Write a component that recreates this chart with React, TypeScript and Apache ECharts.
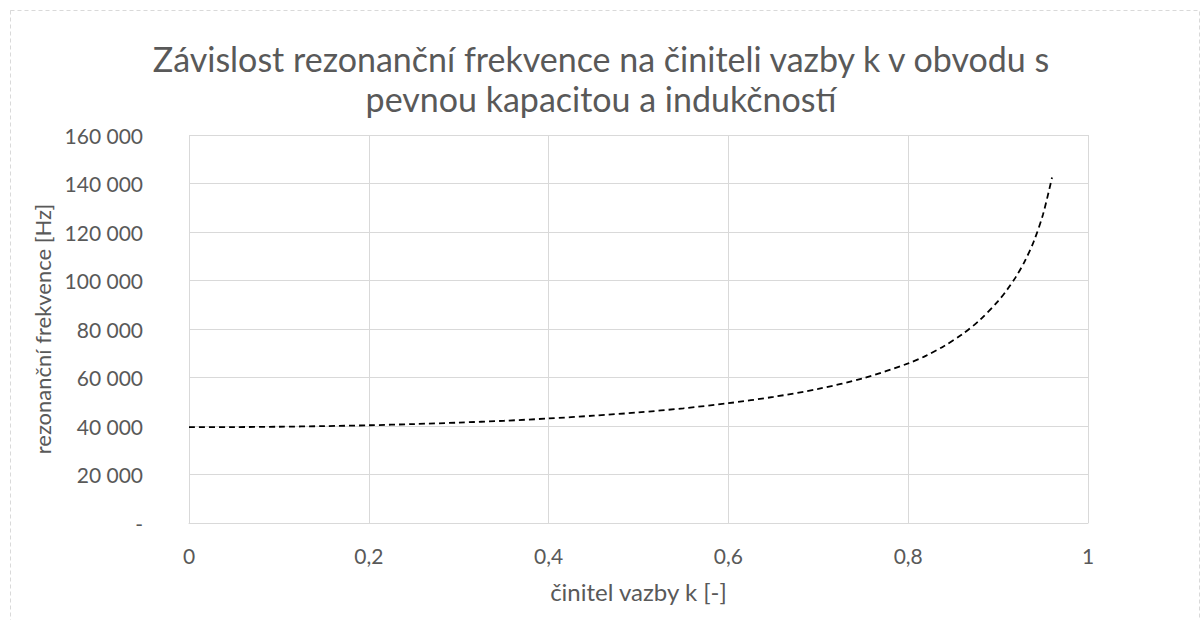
import React, { useEffect, useRef } from "react";
import * as echarts from "echarts";

const titleLines = [
  "Závislost rezonanční frekvence na činiteli vazby k v obvodu s",
  "pevnou kapacitou a indukčností",
];
const xName = "činitel vazby k [-]";
const yName = "rezonanční frekvence [Hz]";

const kValues = [
  0, 0.05, 0.1, 0.15, 0.2, 0.25, 0.3, 0.35, 0.4, 0.45, 0.5, 0.55, 0.6, 0.65,
  0.7, 0.75, 0.8, 0.82, 0.84, 0.86, 0.88, 0.9, 0.91, 0.92, 0.93, 0.94, 0.95,
  0.96,
];
const freqValues = [
  39500, 39550, 39700, 39950, 40300, 40800, 41400, 42150, 43100, 44250, 45600,
  47300, 49400, 52000, 55300, 59700, 65800, 69000, 73000, 77800, 83800, 91500,
  96200, 101600, 108200, 116400, 127300, 142500,
];

const FONT = "Lato, 'Open Sans', sans-serif";
const TEXT = "#595959";
const GRID = "#d9d9d9";

export default function App() {
  const ref = useRef<HTMLDivElement>(null);
  useEffect(() => {
    if (!ref.current) return;
    const chart = echarts.init(ref.current, undefined, { renderer: "svg" });
    chart.setOption({
      animation: false,
      backgroundColor: "#ffffff",
      textStyle: { fontFamily: FONT },
      title: {
        text: titleLines.join("\n"),
        left: "center",
        top: 33,
        textStyle: {
          fontFamily: FONT,
          fontSize: 34,
          fontWeight: "normal",
          color: TEXT,
          lineHeight: 40,
        },
      },
      graphic: [
        {
          type: "rect",
          shape: { x: 10.5, y: 10.5, width: 1189, height: 640 },
          style: { fill: "none", stroke: "#d9d9d9", lineWidth: 1, lineDash: [4, 3] },
          silent: true,
        },
      ],
      grid: { left: 189, right: 114, top: 135, bottom: 97, containLabel: false },
      xAxis: {
        type: "value",
        min: 0,
        max: 1,
        interval: 0.2,
        name: xName,
        nameLocation: "middle",
        nameGap: 56,
        nameTextStyle: { fontFamily: FONT, fontSize: 24, color: TEXT },
        axisLine: { show: true, lineStyle: { color: GRID, width: 1 } },
        axisTick: { show: false },
        axisLabel: {
          fontFamily: FONT,
          fontSize: 21,
          color: TEXT,
          margin: 22,
          formatter: (v: number) => String(Math.round(v * 10) / 10).replace(".", ","),
        },
        splitLine: { show: true, lineStyle: { color: GRID, width: 1 } },
      },
      yAxis: {
        type: "value",
        min: 0,
        max: 160000,
        interval: 20000,
        name: yName,
        nameLocation: "middle",
        nameGap: 135,
        nameRotate: 90,
        nameTextStyle: { fontFamily: FONT, fontSize: 22, color: TEXT },
        axisLine: { show: false },
        axisTick: { show: false },
        axisLabel: {
          fontFamily: FONT,
          fontSize: 21,
          color: TEXT,
          margin: 46,
          formatter: (v: number) =>
            v === 0 ? "-" : String(v).replace(/\B(?=(\d{3})+(?!\d))/g, " "),
        },
        splitLine: { show: true, lineStyle: { color: GRID, width: 1 } },
      },
      series: [
        {
          type: "line",
          data: kValues.map((k, i) => [k, freqValues[i]]),
          smooth: 0.3,
          showSymbol: false,
          symbol: "none",
          lineStyle: { color: "#000000", width: 1.8, type: [6, 4] },
        },
      ],
    });
    return () => chart.dispose();
  }, []);
  return (
    <div
      ref={ref}
      style={{ position: "absolute", left: 0, top: 0, width: 1202, height: 620 }}
    />
  );
}
